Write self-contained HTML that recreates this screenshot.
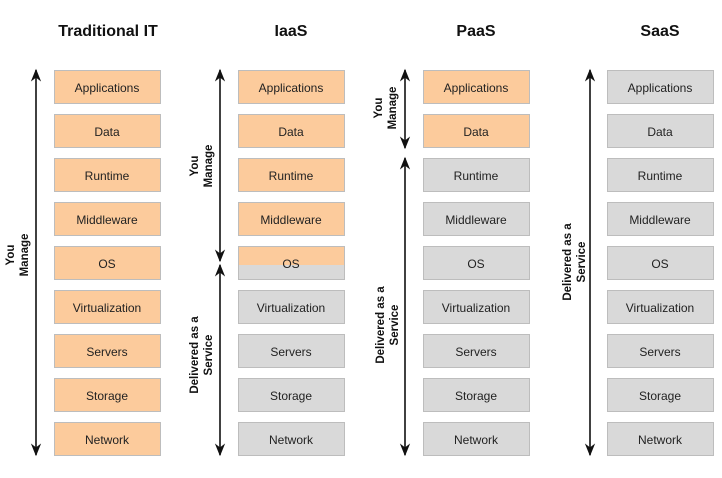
<!DOCTYPE html>
<html><head><meta charset="utf-8"><style>
html,body{margin:0;padding:0;background:#fff;}
svg{display:block;font-family:"Liberation Sans",Arial,sans-serif;}
</style></head><body>
<svg width="722" height="478" viewBox="0 0 722 478" xmlns="http://www.w3.org/2000/svg">
<defs>
<marker id="a" viewBox="0 0 10 10" refX="9" refY="5" markerWidth="8" markerHeight="8" orient="auto-start-reverse"><path d="M0,1 L10,5 L0,9 L3,5 z" fill="#111"/></marker>
</defs>
<g font-weight="bold" font-size="16" fill="#111" text-anchor="middle">
<text x="108" y="36">Traditional IT</text>
<text x="291" y="36">IaaS</text>
<text x="476" y="36">PaaS</text>
<text x="660" y="36">SaaS</text>
</g>
<g stroke="#bdbdbd" stroke-width="1">
<g fill="#fccb9c">
<rect x="54.5" y="70.5" width="106" height="33"/><rect x="54.5" y="114.5" width="106" height="33"/><rect x="54.5" y="158.5" width="106" height="33"/><rect x="54.5" y="202.5" width="106" height="33"/><rect x="54.5" y="246.5" width="106" height="33"/><rect x="54.5" y="290.5" width="106" height="33"/><rect x="54.5" y="334.5" width="106" height="33"/><rect x="54.5" y="378.5" width="106" height="33"/><rect x="54.5" y="422.5" width="106" height="33"/>
<rect x="238.5" y="70.5" width="106" height="33"/><rect x="238.5" y="114.5" width="106" height="33"/><rect x="238.5" y="158.5" width="106" height="33"/><rect x="238.5" y="202.5" width="106" height="33"/>
<rect x="423.5" y="70.5" width="106" height="33"/><rect x="423.5" y="114.5" width="106" height="33"/>
</g>
<g fill="#d9d9d9">
<rect x="238.5" y="246.5" width="106" height="33"/>
<rect x="238.5" y="290.5" width="106" height="33"/><rect x="238.5" y="334.5" width="106" height="33"/><rect x="238.5" y="378.5" width="106" height="33"/><rect x="238.5" y="422.5" width="106" height="33"/>
<rect x="423.5" y="158.5" width="106" height="33"/><rect x="423.5" y="202.5" width="106" height="33"/><rect x="423.5" y="246.5" width="106" height="33"/><rect x="423.5" y="290.5" width="106" height="33"/><rect x="423.5" y="334.5" width="106" height="33"/><rect x="423.5" y="378.5" width="106" height="33"/><rect x="423.5" y="422.5" width="106" height="33"/>
<rect x="607.5" y="70.5" width="106" height="33"/><rect x="607.5" y="114.5" width="106" height="33"/><rect x="607.5" y="158.5" width="106" height="33"/><rect x="607.5" y="202.5" width="106" height="33"/><rect x="607.5" y="246.5" width="106" height="33"/><rect x="607.5" y="290.5" width="106" height="33"/><rect x="607.5" y="334.5" width="106" height="33"/><rect x="607.5" y="378.5" width="106" height="33"/><rect x="607.5" y="422.5" width="106" height="33"/>
</g>
</g>
<rect x="239" y="247" width="105" height="18" fill="#fccb9c"/>
<g font-size="12" fill="#222" text-anchor="middle">
<g id="lbl">
<text x="107" y="92">Applications</text><text x="107" y="136">Data</text><text x="107" y="180">Runtime</text><text x="107" y="224">Middleware</text><text x="107" y="268">OS</text><text x="107" y="312">Virtualization</text><text x="107" y="356">Servers</text><text x="107" y="400">Storage</text><text x="107" y="444">Network</text>
</g>
<use href="#lbl" x="184"/>
<use href="#lbl" x="369"/>
<use href="#lbl" x="553"/>
</g>
<g stroke="#111" stroke-width="1.6" marker-start="url(#a)" marker-end="url(#a)">
<line x1="36" y1="70" x2="36" y2="455"/>
<line x1="220" y1="70" x2="220" y2="261"/>
<line x1="220" y1="265" x2="220" y2="455"/>
<line x1="405" y1="70" x2="405" y2="148"/>
<line x1="405" y1="158" x2="405" y2="455"/>
<line x1="590" y1="70" x2="590" y2="455"/>
</g>
<g font-weight="bold" font-size="11.5" fill="#111" text-anchor="middle">
<text transform="translate(14,255) rotate(-90)">You</text>
<text transform="translate(28,255) rotate(-90)">Manage</text>
<text transform="translate(198,166) rotate(-90)">You</text>
<text transform="translate(212,166) rotate(-90)">Manage</text>
<text transform="translate(198,355) rotate(-90)">Delivered as a</text>
<text transform="translate(212,355) rotate(-90)">Service</text>
<text transform="translate(382,108) rotate(-90)">You</text>
<text transform="translate(396,108) rotate(-90)">Manage</text>
<text transform="translate(384,325) rotate(-90)">Delivered as a</text>
<text transform="translate(398,325) rotate(-90)">Service</text>
<text transform="translate(571,262) rotate(-90)">Delivered as a</text>
<text transform="translate(585,262) rotate(-90)">Service</text>
</g>
</svg>
</body></html>
